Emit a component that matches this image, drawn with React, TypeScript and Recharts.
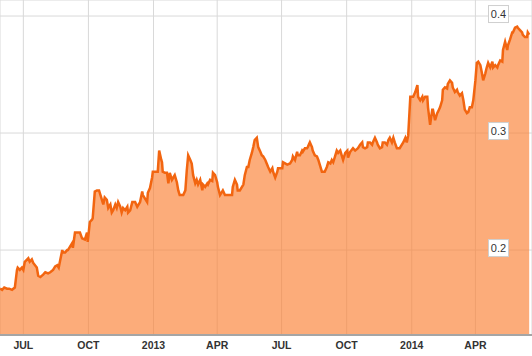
import { Area, AreaChart, CartesianGrid, XAxis, YAxis } from 'recharts';

const START = Date.parse('2012-05-29');
const DAY = 86400000;
const FONT = '"Liberation Sans", Arial, sans-serif';

// trading days, counted from START
const days = [
  0, 3, 6, 10, 13, 17, 21, 24, 25, 28,
  31, 33, 35, 40, 42, 45, 47, 52, 54, 57,
  61, 64, 68, 71, 75, 78, 81, 83, 88, 89,
  92, 95, 96, 99, 102, 103, 106, 109, 110, 113,
  116, 120, 123, 124, 127, 130, 131, 134, 137, 140,
  143, 146, 148, 151, 153, 156, 158, 160, 163, 165,
  167, 170, 172, 174, 177, 180, 181, 184, 187, 191,
  194, 198, 201, 202, 205, 208, 209, 212, 215, 216,
  221, 223, 225, 228, 229, 230, 233, 236, 238, 240,
  243, 245, 247, 250, 252, 254, 259, 262, 264, 266,
  269, 271, 273, 276, 278, 280, 283, 286, 287, 290,
  293, 294, 297, 300, 301, 304, 307, 308, 311, 315,
  318, 322, 328, 329, 332, 335, 336, 339, 344, 346,
  349, 351, 353, 356, 358, 360, 363, 365, 368, 370,
  372, 375, 377, 379, 382, 385, 386, 389, 392, 393,
  399, 400, 403, 406, 410, 413, 414, 417, 420, 421,
  424, 427, 428, 431, 434, 435, 438, 441, 442, 445,
  448, 450, 452, 455, 459, 462, 464, 467, 469, 471,
  474, 476, 478, 481, 483, 485, 488, 491, 492, 495,
  499, 502, 506, 509, 512, 513, 516, 519, 520, 523,
  526, 527, 530, 533, 534, 537, 540, 541, 544, 547,
  549, 551, 554, 556, 558, 561, 565, 570, 573, 575,
  577, 580, 582, 584, 587, 590, 591, 594, 597, 598,
  601, 604, 605, 608, 611, 612, 615, 618, 619, 622,
  625, 626, 629, 632, 633, 636, 639, 640, 643, 646,
  647, 650, 653, 655, 657, 660, 662, 664, 667, 669,
  672, 674, 676, 679, 681, 683, 686, 688, 690, 693,
  696, 697, 700, 703, 704, 707, 710, 711, 714, 717,
  718, 721, 724, 725, 728, 731, 732, 735, 738, 739,
  742, 745, 746, 748,
];

const values = [
  0.167, 0.166, 0.168, 0.167, 0.167, 0.166, 0.168, 0.183, 0.185, 0.183,
  0.185, 0.183, 0.19, 0.193, 0.19, 0.192, 0.189, 0.185, 0.178, 0.177,
  0.179, 0.181, 0.18, 0.181, 0.183, 0.186, 0.187, 0.185, 0.2, 0.198,
  0.198, 0.2, 0.2, 0.203, 0.206, 0.202, 0.215, 0.215, 0.215, 0.215,
  0.21, 0.209, 0.215, 0.207, 0.224, 0.226, 0.227, 0.25, 0.251, 0.251,
  0.245, 0.239, 0.245, 0.243, 0.236, 0.239, 0.232, 0.234, 0.239, 0.236,
  0.241, 0.237, 0.232, 0.236, 0.234, 0.237, 0.232, 0.234, 0.241, 0.241,
  0.237, 0.241, 0.25, 0.247, 0.244, 0.241, 0.249, 0.253, 0.262, 0.267,
  0.267, 0.267, 0.285, 0.277, 0.275, 0.267, 0.266, 0.266, 0.257, 0.266,
  0.26, 0.262, 0.264, 0.258, 0.251, 0.247, 0.247, 0.251, 0.268, 0.281,
  0.277, 0.274, 0.264, 0.257, 0.26, 0.256, 0.26, 0.251, 0.256, 0.254,
  0.257, 0.256, 0.26, 0.259, 0.266, 0.264, 0.258, 0.254, 0.247, 0.251,
  0.247, 0.247, 0.247, 0.254, 0.26, 0.256, 0.251, 0.251, 0.256, 0.264,
  0.271, 0.271, 0.277, 0.283, 0.288, 0.294, 0.296, 0.288, 0.284, 0.281,
  0.28, 0.277, 0.274, 0.271, 0.267, 0.27, 0.267, 0.262, 0.267, 0.27,
  0.27, 0.275, 0.274, 0.273, 0.274, 0.277, 0.28, 0.277, 0.284, 0.281,
  0.281, 0.285, 0.284, 0.287, 0.287, 0.288, 0.292, 0.288, 0.285, 0.281,
  0.28, 0.277, 0.273, 0.267, 0.267, 0.271, 0.275, 0.274, 0.277, 0.275,
  0.281, 0.285, 0.283, 0.285, 0.281, 0.277, 0.283, 0.285, 0.279, 0.284,
  0.287, 0.285, 0.287, 0.29, 0.292, 0.288, 0.287, 0.288, 0.292, 0.292,
  0.29, 0.292, 0.296, 0.292, 0.29, 0.287, 0.288, 0.292, 0.292, 0.29,
  0.294, 0.296, 0.292, 0.296, 0.292, 0.287, 0.287, 0.292, 0.296, 0.292,
  0.298, 0.331, 0.331, 0.331, 0.335, 0.341, 0.331, 0.328, 0.331, 0.328,
  0.331, 0.331, 0.322, 0.307, 0.32, 0.32, 0.311, 0.317, 0.318, 0.322,
  0.328, 0.337, 0.339, 0.338, 0.342, 0.345, 0.343, 0.339, 0.335, 0.337,
  0.335, 0.332, 0.334, 0.328, 0.32, 0.317, 0.318, 0.322, 0.322, 0.328,
  0.345, 0.36, 0.361, 0.358, 0.352, 0.345, 0.351, 0.356, 0.36, 0.356,
  0.361, 0.356, 0.358, 0.356, 0.358, 0.362, 0.361, 0.371, 0.378, 0.371,
  0.375, 0.38, 0.386, 0.386, 0.39, 0.391, 0.39, 0.388, 0.386, 0.384,
  0.382, 0.382, 0.386, 0.384,
];

const tickDates = [
  '2012-07-01', '2012-10-01', '2013-01-01', '2013-04-01',
  '2013-07-01', '2013-10-01', '2014-01-01', '2014-04-01',
];
const tickLabels = ['JUL', 'OCT', '2013', 'APR', 'JUL', 'OCT', '2014', 'APR'];
const valueTicks = [0.2, 0.3, 0.4];

const data = days.map((day, i) => ({ day, value: values[i] }));
const xTicks = tickDates.map((d) => Math.round((Date.parse(d) - START) / DAY));

// boxed value label, sitting a little left of the right edge
function ValueTick({ x, y, payload }: any) {
  const cx = x - 33.5;
  return (
    <g>
      <rect x={cx - 10} y={y - 10.5} width={20} height={17} fill="#fff" stroke="#cfcfcf" />
      <text x={cx} y={y + 2} textAnchor="middle" fontSize={11} fill="#333" fontFamily={FONT}>
        {Number(payload.value).toFixed(1)}
      </text>
    </g>
  );
}

export default function App() {
  return (
    <div style={{ position: 'absolute', left: 0, top: 0 }}>
      <AreaChart width={532} height={356} data={data} margin={{ top: 0, right: 0, bottom: 0, left: 0 }}>
        <CartesianGrid stroke="#d9d9d9" strokeWidth={1} />
        <XAxis
          dataKey="day"
          type="number"
          domain={[0, 752]}
          ticks={xTicks}
          interval={0}
          height={21}
          tickSize={0}
          tickMargin={7}
          tickFormatter={(v: number) => tickLabels[xTicks.indexOf(v)] ?? ''}
          tick={{ fontSize: 10.5, fontWeight: 700, fill: '#333', fontFamily: FONT }}
          axisLine={{ stroke: '#a5a5a5', strokeWidth: 2 }}
          tickLine={false}
        />
        <YAxis
          orientation="right"
          mirror
          width={60}
          domain={[0.1274, 0.4137]}
          ticks={valueTicks}
          interval={0}
          tickSize={0}
          tickMargin={0}
          axisLine={false}
          tickLine={false}
          tick={ValueTick}
          allowDataOverflow
        />
        <Area
          type="linear"
          dataKey="value"
          stroke="#f26510"
          strokeWidth={2.5}
          fill="#fa7f33"
          fillOpacity={0.65}
          dot={false}
          activeDot={false}
          isAnimationActive={false}
        />
      </AreaChart>
    </div>
  );
}
